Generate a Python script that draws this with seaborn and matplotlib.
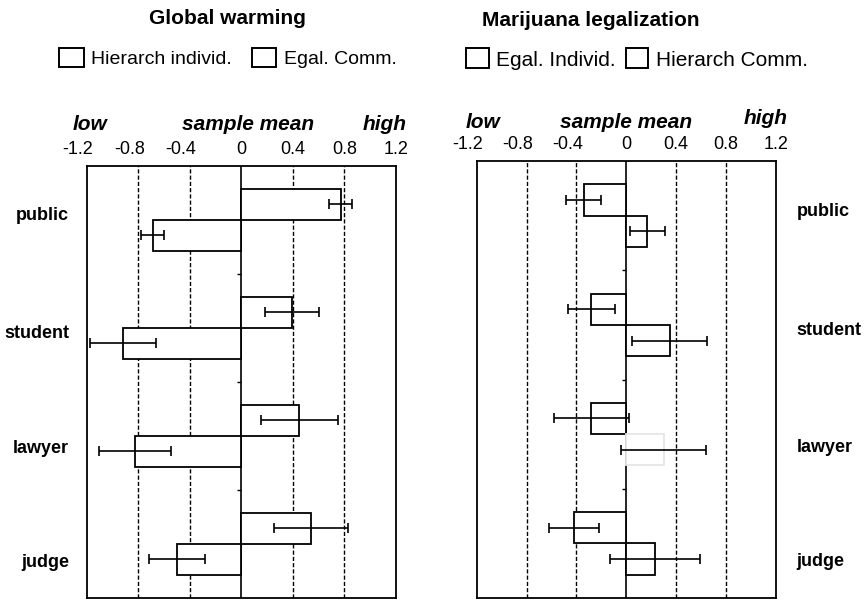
import matplotlib.pyplot as plt
import matplotlib.transforms as mtransforms
from matplotlib.patches import Patch
import numpy as np
import pandas as pd
import seaborn as sns

sns.set_style("white")
plt.rcParams["font.family"] = ["Liberation Sans", "DejaVu Sans"]
plt.rcParams["axes.unicode_minus"] = False
plt.rcParams["text.color"] = "black"
plt.rcParams["xtick.color"] = "black"
plt.rcParams["ytick.color"] = "black"

# data
categories = ["public", "student", "lawyer", "judge"]
ticks = [-1.2, -0.8, -0.4, 0, 0.4, 0.8, 1.2]
tick_labels = ["-1.2", "-0.8", "-0.4", "0", "0.4", "0.8", "1.2"]
grid_at = [-0.8, -0.4, 0.4, 0.8]

# Global warming
gw_series = ["Hierarch individ.", "Egal. Comm."]
gw_hi = [0.77, 0.39, 0.45, 0.54]
gw_hi_err = [0.09, 0.21, 0.30, 0.29]
gw_ec = [-0.69, -0.92, -0.83, -0.50]
gw_ec_err = [0.09, 0.26, 0.28, 0.22]

# Marijuana legalization
mj_series = ["Egal. Individ.", "Hierarch Comm."]
mj_ei = [-0.34, -0.28, -0.28, -0.42]
mj_ei_err = [0.14, 0.19, 0.30, 0.20]
mj_hc = [0.17, 0.35, 0.30, 0.23]
mj_hc_err = [0.14, 0.30, 0.34, 0.36]

label_offsets = [-0.06, 0.03, 0.1, 0.15]


def draw_panel(fig, ax, series, first, second, errs, right_labels):
    df = pd.DataFrame({
        "category": categories * 2,
        "series": np.repeat(series, len(categories)),
        "value": first + second,
    })
    sns.barplot(data=df, x="value", y="category", hue="series", orient="h",
                order=categories, hue_order=series, palette=["white", "white"],
                edgecolor="black", linewidth=1.3, width=0.574, errorbar=None,
                legend=False, ax=ax)
    for cont, err in zip(ax.containers, errs):
        for bar, e in zip(cont, err):
            y = bar.get_y() + bar.get_height() / 2
            x = bar.get_x() + bar.get_width()
            ax.errorbar(x, y, xerr=e, color="black", lw=1.2, capsize=3.5,
                        capthick=1.2, zorder=3)
    for g in grid_at:
        ax.axvline(g, color="black", lw=1, ls=(0, (3, 1.5)), zorder=0.5)
    ax.axvline(0, color="black", lw=1.2, zorder=0.6)
    ax.hlines([0.5, 1.5, 2.5], -0.035, 0, color="black", lw=1)

    ax.set_xlim(-1.2, 1.2)
    ax.set_ylim(3.5, -0.5)
    ax.xaxis.tick_top()
    ax.set_xticks(ticks)
    ax.set_xticklabels(tick_labels)
    ax.tick_params(axis="x", length=0, pad=6, labelsize=13)
    # the minus sign hangs to the left of the tick in the original
    shift = mtransforms.ScaledTranslation(-0.09, 0, fig.dpi_scale_trans)
    for lbl, v in zip(ax.get_xticklabels(), ticks):
        if v < 0:
            lbl.set_transform(lbl.get_transform() + shift)
    ax.set_yticks([i + o for i, o in enumerate(label_offsets)])
    ax.set_yticklabels(categories, fontweight="bold")
    if right_labels:
        ax.yaxis.tick_right()
        ax.tick_params(axis="y", length=0, pad=15, labelsize=13)
    else:
        ax.tick_params(axis="y", length=0, pad=13, labelsize=13)
    ax.set_xlabel("")
    ax.set_ylabel("")
    for s in ax.spines.values():
        s.set_visible(True)
        s.set_color("black")
        s.set_linewidth(1.3)


fig = plt.figure(figsize=(8.67, 6), dpi=100)
ax1 = fig.add_axes([0.1003, 0.0035, 0.3564, 0.72])
ax2 = fig.add_axes([0.5498, 0.0035, 0.3449, 0.728])

draw_panel(fig, ax1, gw_series, gw_hi, gw_ec, [gw_hi_err, gw_ec_err], False)
draw_panel(fig, ax2, mj_series, mj_ei, mj_hc, [mj_ei_err, mj_hc_err], True)

# faded outline of the lawyer bar in the scan
ax2.containers[1][2].set_edgecolor("#e6e6e6")

# low / sample mean / high headers
kw = dict(fontsize=15, fontweight="bold", style="italic", ha="center", va="center")
t1 = mtransforms.blended_transform_factory(ax1.transData, ax1.transAxes)
ax1.text(-1.18, 1.095, "low", transform=t1, **kw)
ax1.text(0.05, 1.095, "sample mean", transform=t1, **kw)
ax1.text(1.11, 1.095, "high", transform=t1, **kw)
t2 = mtransforms.blended_transform_factory(ax2.transData, ax2.transAxes)
ax2.text(-1.15, 1.088, "low", transform=t2, **kw)
ax2.text(0.0, 1.088, "sample mean", transform=t2, **kw)
ax2.text(1.12, 1.097, "high", transform=t2, **kw)

# titles
fig.text(227 / 867, 1 - 19 / 600, "Global warming", fontsize=15,
         fontweight="bold", ha="center", va="center")
fig.text(591 / 867, 1 - 20 / 600, "Marijuana legalization", fontsize=15,
         fontweight="bold", ha="center", va="center")

# legends
def boxes(names):
    return [Patch(facecolor="white", edgecolor="black", lw=1.4, label=n) for n in names]

fig.legend(handles=boxes(gw_series), loc="center",
           bbox_to_anchor=(228 / 867, 1 - 58 / 600), ncol=2, frameon=False,
           fontsize=14, handlelength=1.25, handleheight=1.15, handletextpad=0.4,
           columnspacing=1.0, borderpad=0)
fig.legend(handles=boxes(mj_series), loc="center",
           bbox_to_anchor=(637 / 867, 1 - 59 / 600), ncol=2, frameon=False,
           fontsize=15, handlelength=1.1, handleheight=1.1, handletextpad=0.35,
           columnspacing=0.45, borderpad=0)

fig.savefig("out.png", dpi=100)
